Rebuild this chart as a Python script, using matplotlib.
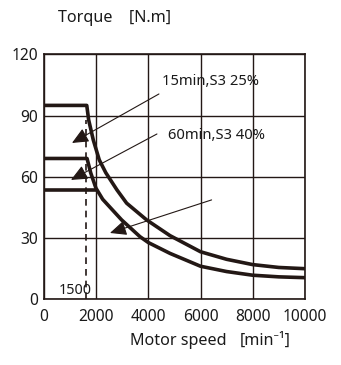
import numpy as np
import matplotlib
matplotlib.use("Agg")
import matplotlib.pyplot as plt

# curve readings (speed in min^-1, torque in N.m)
s3_25_speed = [0, 1640, 1712, 1889, 2119, 2370, 2797, 3168, 3934, 4830, 6000, 7000, 8000, 9000, 10000]
s3_25_torque = [95, 95, 87.9, 78.1, 68.3, 62, 53.6, 47.1, 38.9, 31.2, 23.3, 19.6, 17, 15.6, 15]
s3_40_speed = [0, 1650, 1790, 1990, 2250, 2976, 3678, 4000, 4830, 6000, 7000, 8000, 9000, 10000]
s3_40_torque = [69, 69, 62, 54.5, 49, 38.9, 30.7, 27.8, 22.5, 16.2, 13.6, 11.8, 11, 10.6]
s1_speed = [0, 1990]
s1_torque = [53.5, 53.5]
base_speed = 1600

x_ticks = [0, 2000, 4000, 6000, 8000, 10000]
y_ticks = [0, 30, 60, 90, 120]

plt.rcParams['font.family'] = ['Noto Sans', 'DejaVu Sans']
txt = '#1a1a1a'
ink = '#231815'

fig = plt.figure(figsize=(3.41, 3.65), dpi=100)
ax = fig.add_axes([0.129, 0.180, 0.765, 0.671])

ax.plot(s3_25_speed, s3_25_torque, color=ink, lw=2.6, solid_joinstyle='round')
ax.plot(s3_40_speed, s3_40_torque, color=ink, lw=2.6, solid_joinstyle='round')
ax.plot(s1_speed, s1_torque, color=ink, lw=2.6)
ax.plot([base_speed, base_speed], [0, 88], color=ink, lw=1.2, ls=(0, (4, 3)))

# arrows
arrow_kw = dict(arrowstyle='-|>,head_length=1.0,head_width=0.45', color=ink, lw=0.8,
                shrinkA=0, shrinkB=0)
ax.annotate('', xy=(1073, 76.6), xytext=(4406, 100.6), arrowprops=arrow_kw)
ax.annotate('', xy=(1034, 58.5), xytext=(4330, 81), arrowprops=arrow_kw)
ax.annotate('', xy=(2529, 32.5), xytext=(6425, 48.7), arrowprops=arrow_kw)

ax.text(4520, 106.5, '15min,S3 25%', fontsize=10.6, color=txt, va='center', ha='left')
ax.text(4750, 80.5, '60min,S3 40%', fontsize=10.6, color=txt, va='center', ha='left')
ax.text(1207, 4.5, '1500', fontsize=10.3, color=txt, va='center', ha='center')

ax.set_xlim(0, 10000)
ax.set_ylim(0, 120)
ax.set_xticks(x_ticks)
ax.set_yticks(y_ticks)
ax.tick_params(length=0, labelsize=11.2, labelcolor=txt, pad=7)
ax.tick_params(axis='y', pad=4)
ax.grid(True, color=ink, lw=1.0)
ax.set_axisbelow(True)
for sp in ax.spines.values():
    sp.set_color(ink)
    sp.set_linewidth(1.2)

fig.text(58 / 341, 1 - 18 / 365, 'Torque    [N.m]', fontsize=11.6, color=txt, va='center', ha='left')
fig.text(130 / 341, 1 - 341 / 365, 'Motor speed', fontsize=11.6, color=txt, va='center', ha='left')
fig.text(240 / 341, 1 - 341 / 365, '[min\u207b\u00b9]', fontsize=11.6, color=txt, va='center', ha='left')

fig.savefig('out.png', dpi=100, facecolor='white')
